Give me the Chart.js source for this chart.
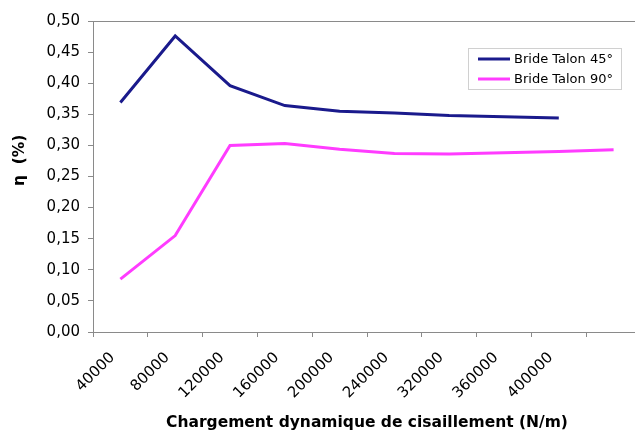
<!DOCTYPE html>
<html>
<head>
<meta charset="utf-8">
<script src="https://cdn.jsdelivr.net/npm/chart.js@4/dist/chart.umd.min.js"></script>
<style>
html,body{margin:0;padding:0;background:#fff;overflow:hidden;width:635px;height:436px;}
canvas{display:block;}
</style>
</head>
<body>
<canvas id="c" width="650" height="436" style="width:650px;height:436px"></canvas>
<script>
const categories = ["40000","80000","120000","160000","200000","240000","320000","360000","400000",""];
const talon45 = [0.369,0.476,0.396,0.364,0.355,0.352,0.348,0.346,0.344,null];
const talon90 = [0.085,0.155,0.300,0.303,0.294,0.287,0.286,0.288,0.290,0.293];
const seriesNames = ["Bride Talon 45°","Bride Talon 90°"];
const seriesColors = ["#1a1a8c","#ff3cff"];
const xTitle = "Chargement dynamique de cisaillement (N/m)";
const yTitle = "      η  (%)";

const FONT = "'DejaVu Sans', Verdana, sans-serif";
const AXIS = "#8a8a8a";

const frame = {
  id: 'frame',
  afterDraw(chart) {
    const {ctx, chartArea: a} = chart;
    ctx.save();
    ctx.strokeStyle = AXIS;
    ctx.lineWidth = 1;
    ctx.strokeRect(Math.round(a.left)+0.5, Math.round(a.top)+0.5, Math.round(a.right-a.left), Math.round(a.bottom-a.top));
    ctx.restore();
  }
};

const boxLegend = {
  id: 'boxLegend',
  afterDraw(chart) {
    const ctx = chart.ctx;
    const x0 = 468, y0 = 48, w = 153, h = 41;
    ctx.save();
    ctx.fillStyle = '#fff';
    ctx.fillRect(x0, y0, w, h);
    ctx.strokeStyle = '#d0d0d0';
    ctx.lineWidth = 1;
    ctx.strokeRect(x0+0.5, y0+0.5, w, h);
    ctx.font = "13px " + FONT;
    ctx.textBaseline = 'middle';
    chart.data.datasets.forEach((ds, i) => {
      const y = 59 + i*20;
      ctx.strokeStyle = ds.borderColor;
      ctx.lineWidth = 3;
      ctx.beginPath();
      ctx.moveTo(478, y);
      ctx.lineTo(510, y);
      ctx.stroke();
      ctx.fillStyle = '#000';
      ctx.fillText(ds.label, 514, y+0.5);
    });
    ctx.restore();
  }
};

new Chart(document.getElementById('c'), {
  type: 'line',
  data: {
    labels: categories,
    datasets: [
      {label: seriesNames[0], data: talon45, borderColor: seriesColors[0], backgroundColor: seriesColors[0], borderWidth: 3, pointRadius: 0, tension: 0, spanGaps: false},
      {label: seriesNames[1], data: talon90, borderColor: seriesColors[1], backgroundColor: seriesColors[1], borderWidth: 3, pointRadius: 0, tension: 0}
    ]
  },
  options: {
    responsive: false,
    animation: false,
    layout: {padding: {left: 0, right: 9, top: 21, bottom: 0}},
    plugins: {legend: {display: false}, tooltip: {enabled: false}},
    scales: {
      x: {
        type: 'category',
        offset: true,
        grid: {offset: true, display: true, drawOnChartArea: false, color: AXIS, tickLength: 5, tickColor: AXIS},
        border: {display: true, color: AXIS, width: 1},
        ticks: {color: '#000', font: {family: FONT, size: 15}, minRotation: 45, maxRotation: 45, autoSkip: false, padding: 12, labelOffset: -8},
        title: {display: true, text: xTitle, color: '#000', font: {family: FONT, size: 15.5, weight: 'bold'}, padding: {top: 0, bottom: 4}},
        afterFit(s) { s.height = 104; }
      },
      y: {
        min: 0, max: 0.5,
        grid: {display: true, drawOnChartArea: false, color: AXIS, tickLength: 5, tickColor: AXIS},
        border: {display: true, color: AXIS, width: 1},
        ticks: {stepSize: 0.05, color: '#000', font: {family: FONT, size: 15}, padding: 8,
          callback: v => v.toFixed(2).replace('.', ',')},
        title: {display: true, text: yTitle, color: '#000', font: {family: FONT, size: 15.5, weight: 'bold'}, padding: {top: 11, bottom: 0}},
        afterFit(s) { s.width = 93; }
      }
    }
  },
  plugins: [frame, boxLegend]
});
</script>
</body>
</html>
